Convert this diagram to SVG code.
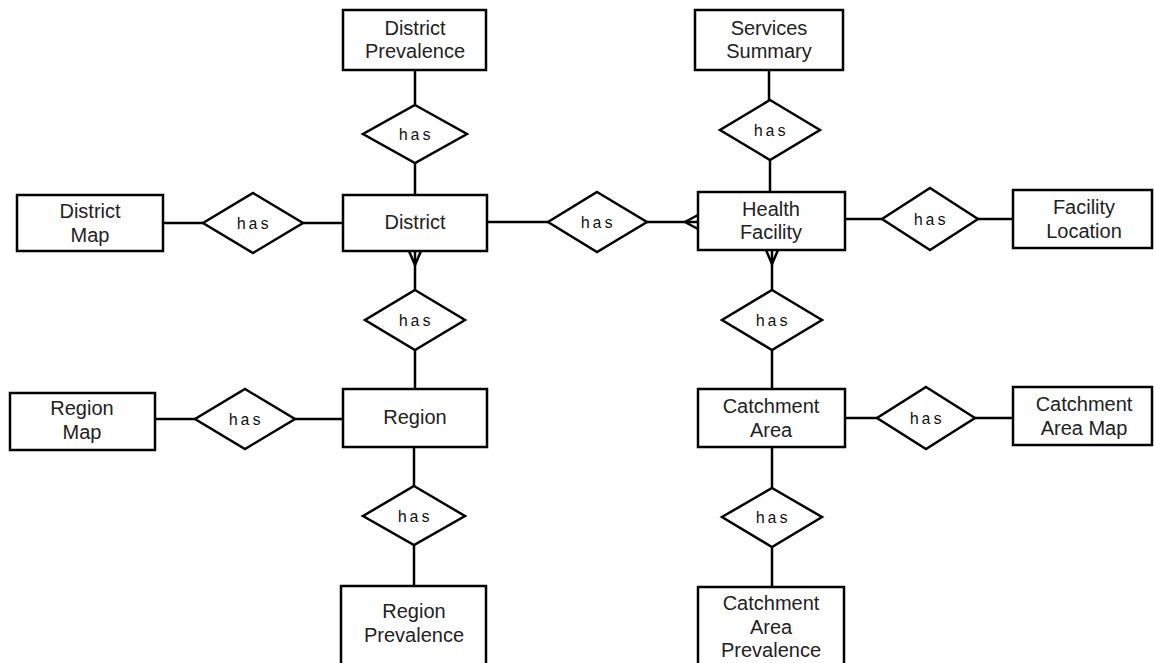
<svg xmlns="http://www.w3.org/2000/svg" width="1154" height="663" viewBox="0 0 1154 663">
  <style>
    .ent { fill: #ffffff; stroke: #000000; stroke-width: 2.5; }
    .rel { fill: #ffffff; stroke: #000000; stroke-width: 2.5; stroke-linejoin: miter; }
    .lbl { font-family: "Liberation Sans", Arial, sans-serif; font-size: 20px; fill: #222222; text-anchor: middle; }
    .has { font-family: "Liberation Mono", "Courier New", monospace; font-size: 16px; fill: #111111; text-anchor: middle; letter-spacing: 2px; }
    .conn line, .conn polyline { stroke: #000000; stroke-width: 2.5; fill: none; }
  </style>
  <rect width="1154" height="663" fill="#ffffff"/>

  <!-- connectors -->
  <g id="connectors" class="conn">
    <line x1="415" y1="70" x2="415" y2="105"/>
    <line x1="415" y1="163" x2="415" y2="195"/>
    <line x1="163" y1="223" x2="203" y2="223"/>
    <line x1="303" y1="223" x2="343" y2="223"/>
    <line x1="487" y1="222" x2="548" y2="222"/>
    <line x1="647" y1="222" x2="698" y2="222"/>
    <polyline points="698,215 685,222 698,229"/>
    <line x1="769" y1="70" x2="769" y2="100"/>
    <line x1="770" y1="160" x2="770" y2="192"/>
    <line x1="845" y1="219" x2="882" y2="219"/>
    <line x1="978" y1="219" x2="1013" y2="219"/>
    <line x1="772" y1="250" x2="772" y2="290"/>
    <polyline points="766,250 772,264 778,250"/>
    <line x1="772" y1="350" x2="772" y2="389"/>
    <line x1="415" y1="251" x2="415" y2="290"/>
    <polyline points="409,251 415,265 421,251"/>
    <line x1="415" y1="350" x2="415" y2="389"/>
    <line x1="155" y1="419" x2="195" y2="419"/>
    <line x1="295" y1="419" x2="343" y2="419"/>
    <line x1="414" y1="447" x2="414" y2="486"/>
    <line x1="414" y1="545" x2="414" y2="586"/>
    <line x1="845" y1="418" x2="877" y2="418"/>
    <line x1="975" y1="418" x2="1013" y2="418"/>
    <line x1="772" y1="447" x2="772" y2="488"/>
    <line x1="772" y1="547" x2="772" y2="587"/>
  </g>

  <!-- entities -->
  <g id="district-prevalence">
    <rect class="ent" x="343" y="10" width="143" height="60"/>
    <text class="lbl" x="415" y="35">District</text>
    <text class="lbl" x="415" y="58">Prevalence</text>
  </g>
  <g id="services-summary">
    <rect class="ent" x="695" y="10" width="148" height="60"/>
    <text class="lbl" x="769" y="35">Services</text>
    <text class="lbl" x="769" y="58">Summary</text>
  </g>
  <g id="district-map">
    <rect class="ent" x="17" y="195" width="146" height="56"/>
    <text class="lbl" x="90" y="218">District</text>
    <text class="lbl" x="90" y="242">Map</text>
  </g>
  <g id="district">
    <rect class="ent" x="343" y="195" width="144" height="56"/>
    <text class="lbl" x="415" y="229">District</text>
  </g>
  <g id="health-facility">
    <rect class="ent" x="698" y="192" width="147" height="58"/>
    <text class="lbl" x="771" y="216">Health</text>
    <text class="lbl" x="771" y="239">Facility</text>
  </g>
  <g id="facility-location">
    <rect class="ent" x="1013" y="190" width="139" height="58"/>
    <text class="lbl" x="1084" y="214">Facility</text>
    <text class="lbl" x="1084" y="238">Location</text>
  </g>
  <g id="region-map">
    <rect class="ent" x="10" y="393" width="145" height="57"/>
    <text class="lbl" x="82" y="415">Region</text>
    <text class="lbl" x="82" y="439">Map</text>
  </g>
  <g id="region">
    <rect class="ent" x="343" y="389" width="144" height="58"/>
    <text class="lbl" x="415" y="424">Region</text>
  </g>
  <g id="catchment-area">
    <rect class="ent" x="698" y="389" width="147" height="58"/>
    <text class="lbl" x="771" y="413">Catchment</text>
    <text class="lbl" x="771" y="437">Area</text>
  </g>
  <g id="catchment-area-map">
    <rect class="ent" x="1013" y="387" width="139" height="58"/>
    <text class="lbl" x="1084" y="411">Catchment</text>
    <text class="lbl" x="1084" y="435">Area Map</text>
  </g>
  <g id="region-prevalence">
    <rect class="ent" x="341" y="586" width="145" height="90"/>
    <text class="lbl" x="414" y="618">Region</text>
    <text class="lbl" x="414" y="642">Prevalence</text>
  </g>
  <g id="catchment-area-prevalence">
    <rect class="ent" x="698" y="587" width="146" height="90"/>
    <text class="lbl" x="771" y="610">Catchment</text>
    <text class="lbl" x="771" y="634">Area</text>
    <text class="lbl" x="771" y="657">Prevalence</text>
  </g>

  <!-- relationships -->
  <g id="rel-district-prevalence">
    <polygon class="rel" points="415,105 467,134 415,163 363,134"/>
    <text class="has" x="416" y="140">has</text>
  </g>
  <g id="rel-district-map">
    <polygon class="rel" points="253,193 303,223 253,253 203,223"/>
    <text class="has" x="254" y="229">has</text>
  </g>
  <g id="rel-district-facility">
    <polygon class="rel" points="597,192 647,222 597,252 548,222"/>
    <text class="has" x="598" y="228">has</text>
  </g>
  <g id="rel-services-summary">
    <polygon class="rel" points="770,100 820,130 770,160 720,130"/>
    <text class="has" x="771" y="136">has</text>
  </g>
  <g id="rel-facility-location">
    <polygon class="rel" points="930,188 978,219 930,250 882,219"/>
    <text class="has" x="931" y="225">has</text>
  </g>
  <g id="rel-facility-catchment">
    <polygon class="rel" points="772,290 822,320 772,350 722,320"/>
    <text class="has" x="773" y="326">has</text>
  </g>
  <g id="rel-district-region">
    <polygon class="rel" points="415,290 465,320 415,350 365,320"/>
    <text class="has" x="416" y="326">has</text>
  </g>
  <g id="rel-region-map">
    <polygon class="rel" points="245,389 295,419 245,449 195,419"/>
    <text class="has" x="246" y="425">has</text>
  </g>
  <g id="rel-region-prevalence">
    <polygon class="rel" points="414,486 465,516 414,545 363,516"/>
    <text class="has" x="415" y="522">has</text>
  </g>
  <g id="rel-catchment-map">
    <polygon class="rel" points="926,387 975,418 926,449 877,418"/>
    <text class="has" x="927" y="424">has</text>
  </g>
  <g id="rel-catchment-prevalence">
    <polygon class="rel" points="772,488 822,517 772,547 722,517"/>
    <text class="has" x="773" y="523">has</text>
  </g>
</svg>
